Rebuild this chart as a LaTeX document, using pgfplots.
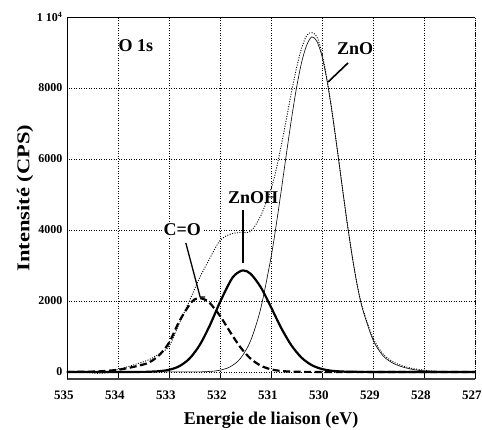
\documentclass[border=0pt]{standalone}
\usepackage{fontspec}
\setmainfont{Liberation Serif}
\usepackage{pgfplots}
\usepackage{pgfplotstable}
\pgfplotsset{compat=1.18}

% O 1s spectrum: measured envelope and three fitted components
\pgfplotstableread{
E I
535.0 0
534.7 0
534.4 -40
534.2 -20
534.0 70
533.8 150
533.6 240
533.4 340
533.2 500
533.0 720
532.8 1360
532.6 2000
532.4 2650
532.2 3200
532.0 3700
531.8 3880
531.6 3930
531.4 3960
531.2 4400
531.0 5150
530.9 5690
530.8 6370
530.7 7110
530.6 7870
530.5 8560
530.4 9120
530.3 9480
530.2 9560
530.1 9440
530.0 8970
529.9 8230
529.8 7320
529.7 6270
529.6 5190
529.5 4140
529.4 3190
529.3 2380
529.2 1780
529.0 960
528.8 500
528.6 280
528.4 160
528.2 90
528.0 50
527.8 20
527.5 10
527.2 0
527.0 0
}\envelope

\pgfplotstableread{
E I
535.0 0
532.6 0
532.2 14
532.0 48
531.8 144
531.6 378
531.4 878
531.2 1795
531.0 3224
530.9 4120
530.8 5103
530.7 6120
530.6 7111
530.5 8001
530.4 8720
530.3 9206
530.2 9440
530.1 9313
530.0 8892
529.9 8196
529.8 7286
529.7 6254
529.6 5180
529.5 4135
529.4 3190
529.3 2374
529.2 1750
529.0 900
528.8 450
528.6 240
528.4 130
528.2 65
528.0 30
527.5 8
527.0 0
}\zno

\pgfplotstableread{
E I
535.0 0
533.6 0
533.4 5
533.2 19
533.0 59
532.8 159
532.6 373
532.4 752
532.2 1309
532.0 1967
531.8 2548
531.7 2743
531.55 2860
531.4 2765
531.2 2385
531.0 1825
530.8 1238
530.6 748
530.4 400
530.2 190
530.0 81
529.8 30
529.6 10
529.4 3
529.0 0
527.0 0
}\znoh

\pgfplotstableread{
E I
535.0 0
534.6 5
534.3 20
534.0 60
533.8 110
533.6 175
533.4 260
533.2 460
533.0 820
532.8 1420
532.6 1890
532.5 2040
532.4 2080
532.3 2040
532.2 1942
532.0 1581
531.8 1122
531.6 694
531.4 374
531.2 176
531.0 72
530.8 26
530.6 8
530.4 2
530.0 0
527.0 0
}\co

\begin{document}
\begin{tikzpicture}
\begin{axis}[
    scale only axis,
    width=408pt, height=362pt,
    xmin=527, xmax=535, x dir=reverse,
    ymin=-200, ymax=10000,
    xtick={527,528,...,535},
    xticklabels={\textbf{527},\textbf{528},\textbf{529},\textbf{530},\textbf{531},\textbf{532},\textbf{533},\textbf{534},\textbf{535}},
    ytick={0,2000,4000,6000,8000,10000},
    yticklabels={\textbf{0},\textbf{2000},\textbf{4000},\textbf{6000},\textbf{8000},{\textbf{1 10\textsuperscript{4}}}},
    scaled y ticks=false,
    /pgf/number format/assume math mode=true,
    /pgf/number format/1000 sep={},
    tick label style={font=\bfseries\fontsize{12}{14}\selectfont},
    xticklabel style={font=\bfseries\fontsize{13}{15}\selectfont, yshift=-8pt, xshift=-3pt},
    yticklabel style={xshift=-1pt},
    tick align=inside,
    xtick pos=bottom,
    major tick length=5pt,
    xtick style={black, line width=0.8pt},
    ytick style={draw=none},
    grid=major,
    grid style={black, line width=0.6pt, dash pattern=on 1pt off 1.5pt},
    axis line style={draw=none},
    xlabel={\textbf{Energie de liaison (eV)}},
    ylabel={\scalebox{1.25}[1]{\textbf{Intensité (CPS)}}},
    label style={font=\bfseries\fontsize{18}{20}\selectfont},
    xlabel shift=6pt,
    ylabel shift=-3pt,
    clip=false,
]
\addplot[black, line width=0.9pt, dash pattern=on 1pt off 1.5pt, smooth] table[x=E, y=I] {\envelope};
\addplot[black, line width=0.6pt, smooth] table[x=E, y=I] {\zno};
\addplot[black, line width=2.2pt, smooth] table[x=E, y=I] {\znoh};
\addplot[black, line width=2.2pt, dash pattern=on 7pt off 3.5pt, smooth] table[x=E, y=I] {\co};

\node[font=\bfseries\fontsize{18}{20}\selectfont] at (axis cs:533.65,9183) {O 1s};
\node[font=\bfseries\fontsize{18}{20}\selectfont] at (axis cs:529.35,9099) {ZnO};
\draw[line width=1.6pt] (axis cs:529.49,8705) -- (axis cs:529.88,8169);
\node[font=\bfseries\fontsize{18}{20}\selectfont] at (axis cs:531.35,4902) {ZnOH};
\draw[line width=2.4pt] (axis cs:531.55,4563) -- (axis cs:531.55,3071);
\node[font=\bfseries\fontsize{18}{20}\selectfont, fill=white, inner sep=1pt] at (axis cs:532.74,4000) {C=O};
\draw[line width=1.3pt] (axis cs:532.67,3634) -- (axis cs:532.39,2113) -- (axis cs:532.29,2113);
\end{axis}
\draw[black, line width=0.6pt] (current axis.north west) -- (current axis.north east);
\draw[black!75, line width=2pt] (current axis.south west) -- (current axis.south east);
\draw[black, line width=0.6pt] (current axis.south west) -- (current axis.north west);
\draw[black, line width=0.6pt, dash pattern=on 1pt off 1pt] (current axis.south east) -- (current axis.north east);
\pgfresetboundingbox
\path[use as bounding box] (current axis.south west) ++(-67pt,-50pt) rectangle ++(482pt,429pt);
\end{tikzpicture}
\end{document}
